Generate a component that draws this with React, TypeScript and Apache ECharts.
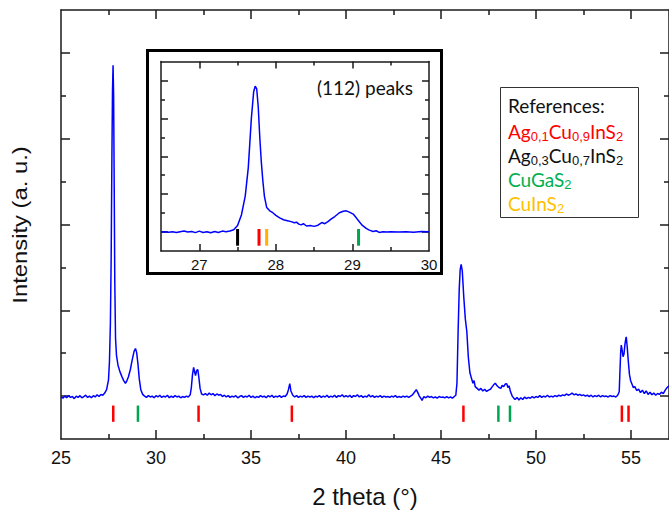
import React, { useEffect, useRef } from 'react';
import * as echarts from 'echarts';

// ---- tick positions / labels ----
const MAIN_X_LABELS = [25, 30, 35, 40, 45, 50, 55];
const MAIN_X_MAJOR = [30, 35, 40, 45, 50, 55];
const MAIN_X_MINOR = [27.5, 32.5, 37.5, 42.5, 47.5, 52.5];
const Y_MAJOR = [1, 3, 5, 7, 9];
const Y_MINOR = [2, 4, 6, 8];
const INSET_X_LABELS = [27, 28, 29, 30];
const INSET_X_MAJOR = [27, 28, 29];
const INSET_X_MINOR = [27.5, 28.5, 29.5];

// ---- main XRD pattern: [2theta, intensity (a.u.)] ----
const MAIN_PATTERN: number[][] = [
  [25.0, 0.98], [25.1, 0.95], [25.2, 1.0], [25.3, 0.96], [25.4, 1.01], [25.5, 0.97], [25.6, 0.99], [25.7, 0.94],
  [25.8, 1.0], [25.9, 0.97], [26.0, 1.01], [26.1, 0.96], [26.2, 0.99], [26.3, 1.02], [26.4, 0.97], [26.5, 1.0],
  [26.6, 0.96], [26.7, 1.01], [26.8, 0.98], [26.9, 1.03], [27.0, 0.99], [27.1, 1.04], [27.2, 1.02], [27.3, 1.07],
  [27.4, 1.15], [27.5, 1.38], [27.55, 1.8], [27.6, 2.7], [27.64, 4.2], [27.68, 6.6], [27.71, 8.1], [27.74, 8.71],
  [27.77, 8.0], [27.8, 5.9], [27.83, 3.7], [27.87, 2.35], [27.92, 1.95], [28.0, 1.72], [28.1, 1.57], [28.2, 1.46],
  [28.3, 1.36], [28.39, 1.3], [28.45, 1.34], [28.55, 1.45], [28.65, 1.62], [28.75, 1.85], [28.85, 2.05], [28.92, 2.11],
  [28.98, 2.02], [29.05, 1.75], [29.12, 1.4], [29.2, 1.15], [29.3, 1.04], [29.4, 1.0], [29.5, 0.97], [29.6, 1.01],
  [29.7, 0.98], [29.8, 1.0], [29.9, 0.96], [30.0, 1.01], [30.1, 0.98], [30.2, 1.02], [30.3, 0.97], [30.4, 1.0],
  [30.5, 0.98], [30.6, 1.02], [30.7, 0.96], [30.8, 1.0], [30.9, 0.97], [31.0, 1.01], [31.1, 0.98], [31.2, 1.0],
  [31.3, 0.96], [31.4, 0.99], [31.5, 0.97], [31.6, 1.0], [31.7, 0.98], [31.8, 1.03], [31.86, 1.2], [31.92, 1.5],
  [31.98, 1.67], [32.04, 1.55], [32.08, 1.48], [32.14, 1.6], [32.2, 1.62], [32.26, 1.42], [32.32, 1.18], [32.4, 1.05],
  [32.5, 1.03], [32.6, 1.06], [32.7, 1.02], [32.8, 1.07], [32.9, 1.03], [33.0, 1.06], [33.1, 1.01], [33.2, 1.05],
  [33.3, 1.02], [33.4, 1.04], [33.5, 0.99], [33.6, 1.02], [33.7, 0.98], [33.8, 1.01], [33.9, 0.97], [34.0, 1.0],
  [34.1, 0.98], [34.2, 1.01], [34.3, 0.96], [34.4, 0.99], [34.5, 1.01], [34.6, 0.97], [34.7, 1.0], [34.8, 0.98],
  [34.9, 1.02], [35.0, 0.97], [35.1, 1.0], [35.2, 0.96], [35.3, 0.99], [35.4, 0.97], [35.5, 1.01], [35.6, 0.98],
  [35.7, 1.0], [35.8, 0.96], [35.9, 1.01], [36.0, 0.98], [36.1, 1.02], [36.2, 0.97], [36.3, 1.0], [36.4, 0.98],
  [36.5, 1.01], [36.6, 0.97], [36.7, 1.0], [36.8, 0.99], [36.9, 1.05], [36.97, 1.15], [37.04, 1.29], [37.1, 1.12],
  [37.2, 1.02], [37.3, 0.98], [37.4, 1.01], [37.5, 0.97], [37.6, 1.0], [37.7, 0.98], [37.8, 1.01], [37.9, 0.97],
  [38.0, 1.0], [38.1, 0.98], [38.2, 1.0], [38.3, 0.96], [38.4, 1.0], [38.5, 0.98], [38.6, 1.01], [38.7, 0.97],
  [38.8, 1.0], [38.9, 0.98], [39.0, 1.02], [39.1, 0.97], [39.2, 1.0], [39.3, 0.98], [39.4, 1.02], [39.5, 0.97],
  [39.6, 1.01], [39.7, 0.99], [39.8, 1.03], [39.9, 0.98], [40.0, 1.01], [40.1, 0.98], [40.2, 1.02], [40.3, 0.97],
  [40.4, 1.01], [40.5, 0.99], [40.6, 1.03], [40.7, 0.98], [40.8, 1.01], [40.9, 0.97], [41.0, 1.0], [41.1, 0.98],
  [41.2, 1.03], [41.3, 0.98], [41.4, 1.01], [41.5, 0.97], [41.6, 1.0], [41.7, 0.98], [41.8, 1.01], [41.9, 0.97],
  [42.0, 1.0], [42.1, 0.98], [42.2, 0.99], [42.3, 0.97], [42.4, 1.0], [42.5, 0.98], [42.6, 1.01], [42.7, 0.97],
  [42.8, 0.99], [42.9, 0.97], [43.0, 1.0], [43.1, 0.98], [43.2, 1.0], [43.3, 0.97], [43.4, 1.0], [43.5, 1.03],
  [43.6, 1.09], [43.7, 1.15], [43.78, 1.08], [43.86, 1.0], [43.94, 0.95], [44.0, 0.9], [44.1, 0.99], [44.2, 0.96], [44.3, 1.0],
  [44.4, 0.97], [44.5, 0.99], [44.6, 0.96], [44.7, 0.98], [44.8, 0.95], [44.9, 0.99], [45.0, 0.97], [45.1, 0.98],
  [45.2, 0.96], [45.3, 0.99], [45.4, 0.96], [45.5, 0.98], [45.6, 0.95], [45.7, 0.99], [45.78, 1.02], [45.84, 1.3],
  [45.9, 2.5], [45.96, 3.5], [46.01, 3.95], [46.06, 4.07], [46.12, 3.92], [46.2, 3.3], [46.28, 2.8], [46.36, 2.5],
  [46.44, 1.9], [46.52, 1.55], [46.6, 1.42], [46.68, 1.3], [46.74, 1.36], [46.8, 1.22], [46.9, 1.18], [47.0, 1.14],
  [47.1, 1.18], [47.2, 1.12], [47.3, 1.16], [47.4, 1.11], [47.5, 1.14], [47.6, 1.16], [47.7, 1.22], [47.8, 1.28],
  [47.86, 1.3], [47.95, 1.24], [48.05, 1.2], [48.15, 1.18], [48.22, 1.25], [48.3, 1.22], [48.38, 1.28], [48.46, 1.29],
  [48.52, 1.2], [48.58, 1.24], [48.66, 1.1], [48.75, 1.0], [48.85, 0.94], [48.9, 0.92], [49.0, 0.97], [49.1, 0.91],
  [49.2, 0.96], [49.3, 0.92], [49.4, 0.98], [49.5, 0.94], [49.6, 0.97], [49.7, 0.95], [49.8, 0.99], [49.9, 0.96],
  [50.0, 0.99], [50.1, 0.97], [50.2, 1.01], [50.3, 0.97], [50.4, 1.0], [50.5, 0.98], [50.6, 1.02], [50.7, 0.98],
  [50.8, 1.0], [50.9, 0.98], [51.0, 1.01], [51.1, 0.99], [51.2, 1.02], [51.3, 1.0], [51.4, 1.03], [51.5, 1.01],
  [51.6, 1.05], [51.7, 1.02], [51.8, 1.04], [51.9, 1.07], [52.0, 1.03], [52.1, 1.05], [52.2, 1.02], [52.3, 1.04],
  [52.4, 1.01], [52.5, 1.03], [52.6, 1.0], [52.7, 1.02], [52.8, 0.99], [52.9, 1.02], [53.0, 0.98], [53.1, 1.01],
  [53.2, 0.99], [53.3, 1.02], [53.4, 0.98], [53.5, 1.01], [53.6, 0.99], [53.7, 1.0], [53.8, 0.98], [53.9, 1.01],
  [54.0, 0.99], [54.1, 1.0], [54.2, 0.98], [54.3, 1.02], [54.38, 1.1], [54.42, 1.6], [54.46, 2.05], [54.49, 2.19],
  [54.53, 2.08], [54.58, 1.92], [54.63, 1.98], [54.68, 2.2], [54.72, 2.32], [54.75, 2.38], [54.8, 2.15], [54.86, 1.8],
  [54.92, 1.5], [54.98, 1.36], [55.05, 1.28], [55.12, 1.2], [55.2, 1.22], [55.3, 1.13], [55.4, 1.16], [55.5, 1.08],
  [55.6, 1.14], [55.7, 1.06], [55.8, 1.12], [55.9, 1.04], [56.0, 1.09], [56.1, 1.03], [56.2, 1.07], [56.3, 1.02],
  [56.4, 1.06], [56.5, 1.04], [56.6, 1.09], [56.7, 1.06], [56.8, 1.14], [56.9, 1.2], [57.0, 1.24],
];

// ---- inset: (112) region ----
const INSET_PATTERN: number[][] = [
  [26.5, 1.0], [26.55, 1.02], [26.6, 0.99], [26.65, 1.01], [26.7, 0.98], [26.75, 1.02], [26.8, 1.05], [26.85, 1.0],
  [26.9, 1.03], [26.95, 0.97], [27.0, 1.05], [27.05, 0.98], [27.1, 1.02], [27.15, 0.96], [27.2, 1.03], [27.25, 0.98],
  [27.3, 1.05], [27.35, 1.02], [27.4, 1.06], [27.45, 1.12], [27.5, 1.35], [27.55, 1.9], [27.6, 2.9], [27.64, 4.4],
  [27.68, 7.0], [27.71, 8.4], [27.73, 8.7], [27.75, 8.55], [27.77, 7.6], [27.79, 6.0], [27.81, 4.7], [27.83, 3.7],
  [27.85, 2.9], [27.88, 2.3], [27.92, 2.12], [27.96, 2.02], [28.0, 1.88], [28.05, 1.75], [28.1, 1.65], [28.15, 1.6],
  [28.2, 1.55], [28.24, 1.49], [28.27, 1.52], [28.3, 1.42], [28.33, 1.38], [28.36, 1.44], [28.4, 1.32], [28.45, 1.34],
  [28.5, 1.3], [28.55, 1.36], [28.6, 1.5], [28.64, 1.44], [28.68, 1.55], [28.72, 1.68], [28.77, 1.82], [28.83, 2.02],
  [28.88, 2.1], [28.92, 2.12], [28.96, 2.05], [29.01, 1.95], [29.05, 1.75], [29.09, 1.54], [29.13, 1.35], [29.18, 1.19],
  [29.22, 1.1], [29.27, 1.03], [29.31, 1.07], [29.35, 0.98], [29.4, 1.02], [29.45, 1.0], [29.5, 1.01], [29.6, 1.0],
  [29.7, 1.02], [29.8, 0.99], [29.9, 1.03], [30.0, 1.02],
];

// ---- reference line positions ----
const MAIN_REF_RED = [27.75, 32.24, 37.15, 46.18, 54.52, 54.87];
const MAIN_REF_GREEN = [29.05, 48.02, 48.63];
const MAIN_REF_SPAN = [0.4, 0.78];
const INSET_REF_BLACK = [27.5];
const INSET_REF_RED = [27.78];
const INSET_REF_ORANGE = [27.88];
const INSET_REF_GREEN = [29.08];
const INSET_REF_SPAN = [0.28, 1.16];

const LEGEND_TITLE = 'References:';
const X_TITLE = '2 theta (°)';
const Y_TITLE = 'Intensity (a. u.)';
const INSET_TITLE = '(112) peaks';

const AXIS_COLOR = '#1a1a1a';
const SANS = '"Liberation Sans", Arial, sans-serif';
const CAL = 'Lato, "Open Sans", sans-serif';

function xAx(grid: number, pos: string, min: number, max: number, ticks: number[], len: number, line: boolean, labels?: number[], extra: any = {}) {
  return {
    type: 'value', gridIndex: grid, position: pos, min, max,
    axisLine: { show: line, onZero: false, lineStyle: { color: AXIS_COLOR, width: 1.5 } },
    axisTick: { show: true, inside: true, length: len, customValues: ticks, lineStyle: { color: AXIS_COLOR, width: 1.5 } },
    axisLabel: labels ? { show: true, customValues: labels, color: '#111', fontFamily: SANS, fontSize: grid === 0 ? 18 : 15, margin: grid === 0 ? 10 : 6 } : { show: false },
    splitLine: { show: false },
    ...extra,
  };
}
function yAx(grid: number, pos: string, ticks: number[], len: number, line: boolean, extra: any = {}) {
  return {
    type: 'value', gridIndex: grid, position: pos, min: 0, max: 10,
    axisLine: { show: line, onZero: false, lineStyle: { color: AXIS_COLOR, width: 1.5 } },
    axisTick: { show: true, inside: true, length: len, customValues: ticks, lineStyle: { color: AXIS_COLOR, width: 1.5 } },
    axisLabel: { show: false },
    splitLine: { show: false },
    ...extra,
  };
}

function refSeries(xs: number[], span: number[], color: string, xi: number, yi: number, w: number) {
  return {
    type: 'custom', xAxisIndex: xi, yAxisIndex: yi, silent: true, z: 3,
    encode: { x: 0, y: [1, 2] },
    data: xs.map((x) => [x, span[0], span[1]]),
    renderItem: (params: any, api: any) => {
      const p0 = api.coord([api.value(0), api.value(1)]);
      const p1 = api.coord([api.value(0), api.value(2)]);
      return { type: 'line', shape: { x1: p0[0], y1: p0[1], x2: p1[0], y2: p1[1] }, style: { stroke: color, lineWidth: w } };
    },
  };
}

export default function App() {
  const ref = useRef<HTMLDivElement>(null);
  useEffect(() => {
    document.body.style.margin = '0';
    const chart = echarts.init(ref.current!, null, { renderer: 'svg' });
    const sub = { fontSize: 13, padding: [10, 0, 0, 0] };
    const legendText = (y: number, text: string, fill: string) => ({
      type: 'text', x: 508, y, z: 10,
      style: { text, font: '19px ' + CAL, fill, verticalAlign: 'middle', rich: { s: sub } },
    });
    chart.setOption({
      animation: false,
      backgroundColor: '#fff',
      grid: [
        { left: 61, top: 10, width: 611, height: 433 },
        { left: 161, top: 61.5, width: 268, height: 189.5 },
      ],
      xAxis: [
        xAx(0, 'bottom', 25, 57, MAIN_X_MAJOR, 9, true, MAIN_X_LABELS, {
          name: X_TITLE, nameLocation: 'middle', nameGap: 45,
          nameTextStyle: { fontFamily: SANS, fontSize: 24, color: '#111' },
        }),
        xAx(0, 'bottom', 25, 57, MAIN_X_MINOR, 5, false),
        xAx(0, 'top', 25, 57, MAIN_X_MAJOR, 9, true),
        xAx(0, 'top', 25, 57, MAIN_X_MINOR, 5, false),
        xAx(1, 'bottom', 26.5, 30, INSET_X_MAJOR, 7, true, INSET_X_LABELS),
        xAx(1, 'bottom', 26.5, 30, INSET_X_MINOR, 4, false),
        xAx(1, 'top', 26.5, 30, INSET_X_MAJOR, 7, true),
        xAx(1, 'top', 26.5, 30, INSET_X_MINOR, 4, false),
      ],
      yAxis: [
        yAx(0, 'left', Y_MAJOR, 9, true),
        yAx(0, 'left', Y_MINOR, 5, false),
        yAx(0, 'right', Y_MAJOR, 9, true),
        yAx(0, 'right', Y_MINOR, 5, false),
        yAx(1, 'left', Y_MAJOR, 7, true),
        yAx(1, 'left', Y_MINOR, 4, false),
        yAx(1, 'right', Y_MAJOR, 7, true),
        yAx(1, 'right', Y_MINOR, 4, false),
      ],
      series: [
        {
          type: 'line', xAxisIndex: 0, yAxisIndex: 0, data: MAIN_PATTERN, showSymbol: false, symbol: 'none',
          lineStyle: { color: '#0000ff', width: 1.5 }, z: 4,
        },
        refSeries(MAIN_REF_RED, MAIN_REF_SPAN, '#ff0000', 0, 0, 2.5),
        refSeries(MAIN_REF_GREEN, MAIN_REF_SPAN, '#00a550', 0, 0, 2.5),
        {
          type: 'line', xAxisIndex: 4, yAxisIndex: 4, data: INSET_PATTERN, showSymbol: false, symbol: 'none',
          lineStyle: { color: '#0000ff', width: 1.5 }, z: 4,
        },
        refSeries(INSET_REF_BLACK, INSET_REF_SPAN, '#000000', 4, 4, 3),
        refSeries(INSET_REF_RED, INSET_REF_SPAN, '#ff0000', 4, 4, 3),
        refSeries(INSET_REF_ORANGE, INSET_REF_SPAN, '#ffb000', 4, 4, 3),
        refSeries(INSET_REF_GREEN, INSET_REF_SPAN, '#00a550', 4, 4, 3),
      ],
      graphic: [
        {
          type: 'text', x: 20.3, y: 225, rotation: Math.PI / 2, scaleX: 1.19, z: 10,
          style: { text: Y_TITLE, font: '20px ' + SANS, fill: '#111', align: 'center', verticalAlign: 'middle' },
        },
        { type: 'rect', shape: { x: 147.5, y: 50.5, width: 294, height: 223 }, style: { fill: 'rgba(0,0,0,0)', stroke: '#000', lineWidth: 3 }, z: 10 },
        { type: 'text', x: 413, y: 87, style: { text: INSET_TITLE, font: '19px ' + CAL, fill: '#111', align: 'right', verticalAlign: 'middle' }, z: 10 },
        { type: 'rect', shape: { x: 500.5, y: 87.5, width: 138, height: 130 }, style: { fill: 'rgba(0,0,0,0)', stroke: '#333', lineWidth: 1 }, z: 10 },
        legendText(105, LEGEND_TITLE, '#111'),
        legendText(131, 'Ag{s|0,1}Cu{s|0,9}InS{s|2}', '#ff0000'),
        legendText(155, 'Ag{s|0,3}Cu{s|0,7}InS{s|2}', '#111'),
        legendText(179, 'CuGaS{s|2}', '#00b050'),
        legendText(203, 'CuInS{s|2}', '#ffc000'),
      ],
    });
    return () => chart.dispose();
  }, []);
  return <div ref={ref} style={{ width: 669, height: 513 }} />;
}
